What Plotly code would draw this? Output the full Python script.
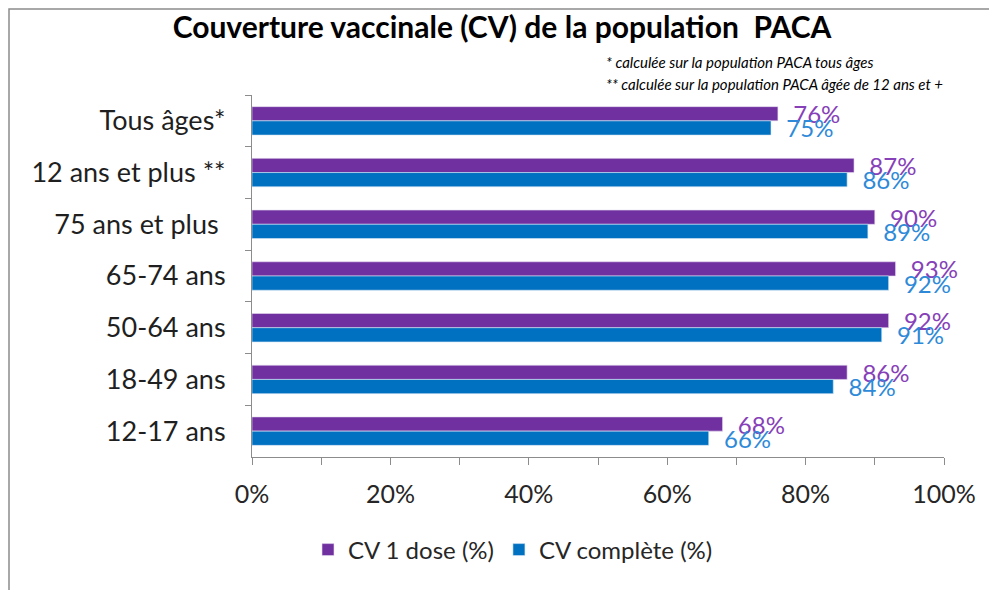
import plotly.graph_objects as go

categories = ["Tous âges*", "12 ans et plus **", "75 ans et plus\u00a0", "65-74 ans",
              "50-64 ans", "18-49 ans", "12-17 ans"]
cv_1_dose = [0.76, 0.87, 0.90, 0.93, 0.92, 0.86, 0.68]
cv_complete = [0.75, 0.86, 0.89, 0.92, 0.91, 0.84, 0.66]
series_names = ["CV 1 dose (%)", "CV complète (%)"]
title_text = "Couverture vaccinale (CV) de la population  PACA"
notes = ["* calculée sur la population PACA tous âges",
         "** calculée sur la population PACA âgée de 12 ans et +"]

FONT = "Lato"
OFF = 8  # page body margin
W, H = 997, 590
L, T = 252 - OFF, 95 - OFF
pw, ph = 692, 362
R = W - L - pw
B = H - T - ph

def px_x(px):
    return (px - OFF - L) / pw

def px_y(py):
    return (T + ph - (py - OFF)) / ph

PAD = "\u00a0\u00a0"

fig = go.Figure()
fig.add_trace(go.Bar(
    y=categories, x=cv_1_dose, name=series_names[0], orientation="h",
    marker=dict(color="#7030A0", line=dict(color="#E6DDF0", width=0.6)),
    text=[f"{PAD}{v*100:.0f}%" for v in cv_1_dose], textposition="outside",
    textfont=dict(family=FONT, size=24, color="#8640B8"),
    constraintext="none", cliponaxis=False,
))
fig.add_trace(go.Bar(
    y=categories, x=cv_complete, name=series_names[1], orientation="h",
    marker=dict(color="#0070C0", line=dict(color="#D6E6F5", width=0.6)),
    text=[f"{PAD}{v*100:.0f}%" for v in cv_complete], textposition="outside",
    textfont=dict(family=FONT, size=24, color="#2E8AD8"),
    constraintext="none", cliponaxis=False,
))

fig.update_layout(
    width=W, height=H,
    margin=dict(l=L, r=R, t=T, b=B),
    paper_bgcolor="white", plot_bgcolor="white",
    barmode="group", bargap=0.45, bargroupgap=0,
    font=dict(family=FONT, color="#262626"),
    title=dict(text=f"<b>{title_text}</b>", x=(502 - OFF) / W, xanchor="center",
               y=1 - (27 - OFF) / H, yanchor="middle",
               font=dict(family=FONT, size=30, color="#000000")),
    showlegend=True,
    legend=dict(orientation="h", x=px_x(513), xanchor="center",
                y=px_y(550), yanchor="middle",
                font=dict(family=FONT, size=24, color="#262626"),
                itemwidth=30, tracegroupgap=0),
    xaxis=dict(range=[0, 1], tickformat=".0%", dtick=0.2, tick0=0,
               showgrid=False, zeroline=False,
               showline=True, linecolor="#8C8C8C", linewidth=1,
               ticks="outside", ticklen=7, tickcolor="#8C8C8C",
               minor=dict(dtick=0.1, ticks="outside", ticklen=7, tickcolor="#8C8C8C"),
               tickfont=dict(family=FONT, size=25, color="#262626"),
               ticklabelstandoff=8),
    yaxis=dict(autorange="reversed", showgrid=False, zeroline=False,
               showline=True, linecolor="#8C8C8C", linewidth=1,
               ticks="outside", ticklen=6, tickcolor="#8C8C8C",
               tickson="boundaries",
               tickfont=dict(family=FONT, size=27, color="#1F1F1F"),
               ticklabelstandoff=20),
)

for i, note in enumerate(notes):
    fig.add_annotation(text=f"<i>{note}</i>", xref="paper", yref="paper",
                       x=px_x(604), y=px_y(62 + 22 * i), xanchor="left", yanchor="middle",
                       showarrow=False,
                       font=dict(family=FONT, size=15, color="#000000"))

fig.add_shape(type="rect", xref="paper", yref="paper",
              x0=px_x(9), x1=px_x(1100), y0=px_y(700), y1=px_y(9),
              line=dict(color="#8C8C8C", width=1.5), layer="below")

fig.write_html("out.html")
